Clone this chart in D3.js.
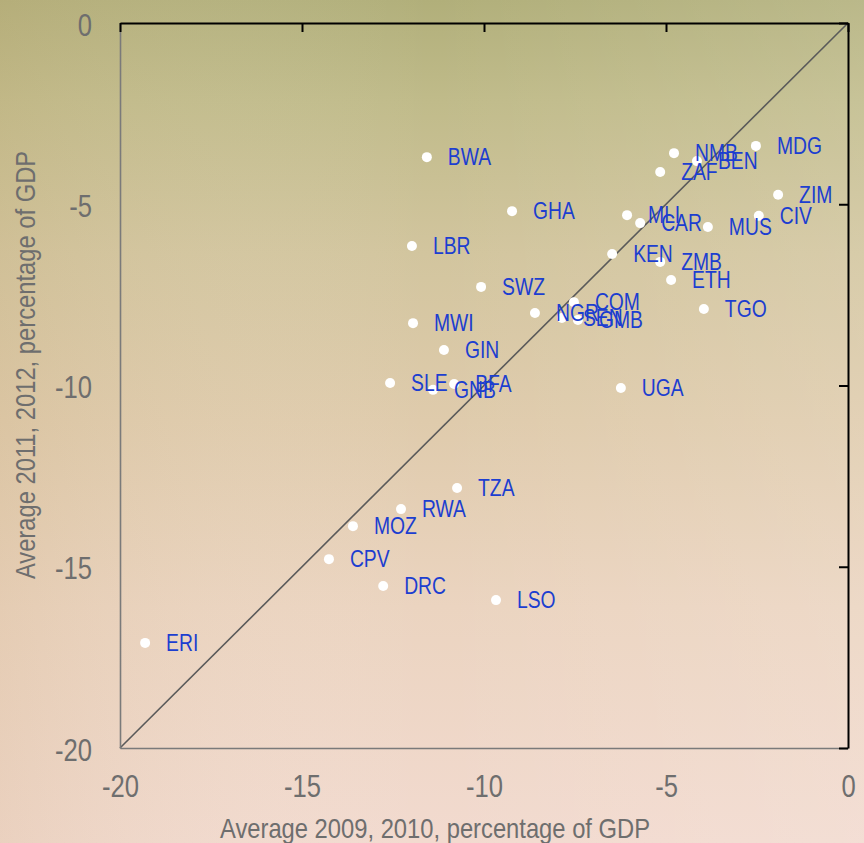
<!DOCTYPE html>
<html>
<head>
<meta charset="utf-8">
<script src="https://cdn.jsdelivr.net/npm/d3@7"></script>
<style>
  html, body { margin: 0; padding: 0; }
  svg { display: block; }
</style>
</head>
<body>
<svg id="chart" width="864" height="843"></svg>
<script>
// ---- data ----
const countries = ["ERI","BWA","GHA","LBR","SWZ","MWI","GIN","SLE","GNB","BFA","UGA","TZA","RWA","MOZ","CPV","DRC","LSO","NGR","NMB","BEN","MDG","ZAF","ZIM","CIV","MLI","CAR","MUS","KEN","ZMB","ETH","TGO","COM","SEN","GMB"];
const avg2009_2010 = [-19.31,-11.57,-9.23,-11.98,-10.08,-11.95,-11.10,-12.58,-11.40,-10.82,-6.24,-10.74,-12.28,-13.60,-14.26,-12.77,-9.67,-8.60,-4.78,-4.15,-2.53,-5.16,-1.92,-2.45,-6.07,-5.71,-3.85,-6.48,-5.16,-4.86,-3.96,-7.53,-7.86,-7.42];
const avg2011_2012 = [-17.10,-3.70,-5.19,-6.15,-7.28,-8.28,-9.02,-9.93,-10.12,-9.96,-10.07,-12.83,-13.41,-13.88,-14.79,-15.53,-15.92,-8.00,-3.59,-3.81,-3.39,-4.11,-4.74,-5.32,-5.30,-5.52,-5.63,-6.37,-6.59,-7.09,-7.89,-7.70,-8.14,-8.19];
const xTicks = [-20,-15,-10,-5,0];
const yTicks = [0,-5,-10,-15,-20];
const xTitle = "Average 2009, 2010, percentage of GDP";
const yTitle = "Average 2011, 2012, percentage of GDP";

// ---- layout ----
const W = 864, H = 843;
const mLeft = 120, mRight = 848, mTop = 23, mBottom = 748;
const svg = d3.select("#chart");

// background gradient
const defs = svg.append("defs");
const g1 = defs.append("linearGradient").attr("id","bg").attr("x1",0).attr("y1",0).attr("x2",0).attr("y2",1);
[[0,"#b1af7a"],[0.12,"#c0bb8a"],[0.3,"#d2c59e"],[0.5,"#dfcbac"],[0.72,"#ebd4c0"],[1,"#f2dacf"]]
  .forEach(([o,c]) => g1.append("stop").attr("offset",o).attr("stop-color",c));
const g2 = defs.append("linearGradient").attr("id","bg2").attr("x1",0).attr("y1",0).attr("x2",1).attr("y2",0);
[[0,"#c8a878",0.18],[0.5,"#ffffff",0],[1,"#ffffff",0.12]]
  .forEach(([o,c,a]) => g2.append("stop").attr("offset",o).attr("stop-color",c).attr("stop-opacity",a));
svg.append("rect").attr("width",W).attr("height",H).attr("fill","url(#bg)");
svg.append("rect").attr("width",W).attr("height",H).attr("fill","url(#bg2)");

const x = d3.scaleLinear().domain([-20,0]).range([mLeft,mRight]);
const y = d3.scaleLinear().domain([-20,0]).range([mBottom,mTop]);

const FONT = "'Liberation Sans', Arial, sans-serif";
const GRAY = "#6e6e6e";
const fmt = d => String(d);

// diagonal 45° line
svg.append("line")
  .attr("x1", x(-20)).attr("y1", y(-20))
  .attr("x2", x(0)).attr("y2", y(0))
  .attr("stroke", "#5a5a5a").attr("stroke-width", 1.6);

// bottom axis (gray, labels)
const bAx = svg.append("g").attr("transform", `translate(0,${mBottom})`)
  .call(d3.axisBottom(x).tickValues(xTicks).tickSize(0).tickSizeOuter(0).tickPadding(0).tickFormat(fmt));
bAx.select(".domain").attr("stroke", "#7a7a7a").attr("stroke-width", 1.6);
bAx.selectAll("text")
  .attr("y", 0).attr("dy", 0)
  .attr("transform", "translate(0,49) scale(0.8,1)")
  .attr("fill", GRAY).attr("font-size", 32).attr("font-family", FONT);

// left axis (gray, labels)
const lAx = svg.append("g").attr("transform", `translate(${mLeft},0)`)
  .call(d3.axisLeft(y).tickValues(yTicks).tickSize(0).tickSizeOuter(0).tickPadding(0).tickFormat(fmt));
lAx.select(".domain").attr("stroke", "#7a7a7a").attr("stroke-width", 1.6);
lAx.selectAll("text")
  .attr("x", 0).attr("dy", 0)
  .attr("transform", "translate(-28,12) scale(0.8,1)")
  .attr("fill", GRAY).attr("font-size", 32).attr("font-family", FONT);

// top axis (black, inward ticks)
const tAx = svg.append("g").attr("transform", `translate(0,${mTop})`)
  .call(d3.axisBottom(x).tickValues(xTicks).tickSize(9).tickSizeOuter(0).tickFormat(""));
tAx.select(".domain").attr("stroke", "#000").attr("stroke-width", 2);
tAx.selectAll(".tick line").attr("stroke", "#000").attr("stroke-width", 2);

// right axis (black, inward ticks)
const rAx = svg.append("g").attr("transform", `translate(${mRight},0)`)
  .call(d3.axisLeft(y).tickValues(yTicks).tickSize(9).tickSizeOuter(0).tickFormat(""));
rAx.select(".domain").attr("stroke", "#000").attr("stroke-width", 2);
rAx.selectAll(".tick line").attr("stroke", "#000").attr("stroke-width", 2);

// axis titles
svg.append("text")
  .attr("transform", `translate(${(mLeft+mRight)/2 - 49},838) scale(0.88,1)`)
  .attr("text-anchor", "middle")
  .attr("fill", GRAY).attr("font-size", 27).attr("font-family", FONT)
  .text(xTitle);
svg.append("text")
  .attr("transform", `translate(35,365) rotate(-90) scale(0.88,1)`)
  .attr("text-anchor", "middle")
  .attr("fill", GRAY).attr("font-size", 27).attr("font-family", FONT)
  .text(yTitle);

// points
const data = countries.map((c,i) => ({c, a: avg2009_2010[i], b: avg2011_2012[i]}));
svg.append("g").selectAll("circle").data(data).join("circle")
  .attr("cx", d => x(d.a)).attr("cy", d => y(d.b)).attr("r", 5)
  .attr("fill", "#ffffff");

// labels
svg.append("g").selectAll("text").data(data).join("text")
  .attr("transform", d => `translate(${x(d.a)+21},${y(d.b)+8}) scale(0.84,1)`)
  .attr("fill", "#1c3ed0").attr("font-size", 23).attr("font-family", FONT)
  .text(d => d.c);
</script>
</body>
</html>
